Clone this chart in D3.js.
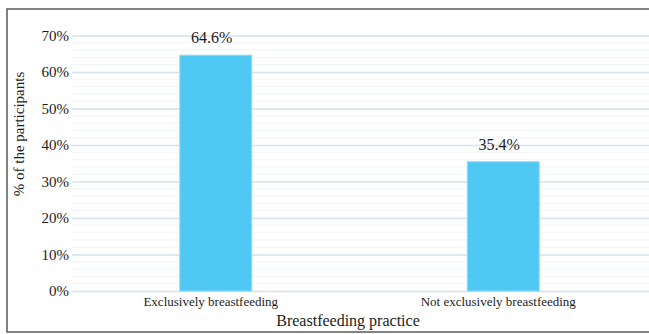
<!DOCTYPE html>
<html><head><meta charset="utf-8">
<script src="https://cdn.jsdelivr.net/npm/d3@7"></script>
<style>body{margin:0;background:#fff}svg{display:block}svg text{font-family:'Liberation Serif','Times New Roman',serif}</style>
</head><body>
<script>
const categories = ["Exclusively breastfeeding", "Not exclusively breastfeeding"];
const values = [64.6, 35.4];
const yTicks = [0, 10, 20, 30, 40, 50, 60, 70];
const minorTicks = d3.range(0, 71, 2);
const xTitle = "Breastfeeding practice";
const yTitle = "% of the participants";

const W = 649, H = 334;
const svg = d3.select("body").append("svg").attr("width", W).attr("height", H);
const font = "'Liberation Serif','Times New Roman',serif";
const ink = "#1c1c1c";

// frame
svg.append("rect").attr("x", 7).attr("y", 9).attr("width", 660).attr("height", 323)
  .attr("fill", "none").attr("stroke", "#5a5a5a").attr("stroke-width", 1.5);

const mLeft = 72, mRight = 647, mTop = 35.5, mBottom = 291;
const y = d3.scaleLinear().domain([0, 70]).range([mBottom, mTop]);
const x = d3.scaleBand().domain(categories).range([mLeft, mRight]).paddingInner(0.75).paddingOuter(0.375);

// minor grid
svg.append("g").selectAll("line").data(minorTicks.filter(d => d % 10 !== 0)).join("line")
  .attr("x1", mLeft).attr("x2", mRight + 2).attr("y1", d => y(d)).attr("y2", d => y(d))
  .attr("stroke", "#eef4f9").attr("stroke-width", 1);

// y axis with major gridlines
const yAxis = svg.append("g").attr("transform", `translate(${mLeft},0)`)
  .call(d3.axisLeft(y).tickValues(yTicks).tickFormat(d => d + "%").tickSize(-(mRight + 2 - mLeft)).tickPadding(3));
yAxis.select(".domain").remove();
yAxis.selectAll(".tick line").attr("stroke", "#d6e2ec").attr("stroke-width", 1.3);
yAxis.selectAll(".tick text").style("font-family", font).style("font-size", "15px").attr("fill", ink);

// bars
svg.append("g").selectAll("rect").data(values).join("rect")
  .attr("x", (d, i) => x(categories[i]))
  .attr("width", x.bandwidth())
  .attr("y", d => y(d))
  .attr("height", d => y(0) - y(d))
  .attr("fill", "#4fc9f3").attr("stroke", "#8ad9f6").attr("stroke-width", 1);

// value labels
svg.append("g").selectAll("text").data(values).join("text")
  .attr("x", (d, i) => x(categories[i]) + x.bandwidth() / 2 - 4)
  .attr("y", d => y(d) - 12)
  .attr("text-anchor", "middle")
  .style("font-family", font).style("font-size", "16px").attr("fill", ink)
  .text(d => d.toFixed(1) + "%");

// x axis labels
const xAxis = svg.append("g").attr("transform", `translate(0,${mBottom})`)
  .call(d3.axisBottom(x).tickSize(0).tickPadding(6));
xAxis.select(".domain").remove();
xAxis.selectAll(".tick text").style("font-family", font).style("font-size", "13px").attr("fill", ink)
  .attr("dx", -5);

// titles
svg.append("text").attr("x", 348).attr("y", 326).attr("text-anchor", "middle")
  .style("font-family", font).style("font-size", "16px").attr("fill", ink).text(xTitle);
svg.append("text").attr("transform", "translate(24,134) rotate(-90)").attr("text-anchor", "middle")
  .style("font-family", font).style("font-size", "15px").attr("fill", ink).text(yTitle);
</script>
</body></html>
